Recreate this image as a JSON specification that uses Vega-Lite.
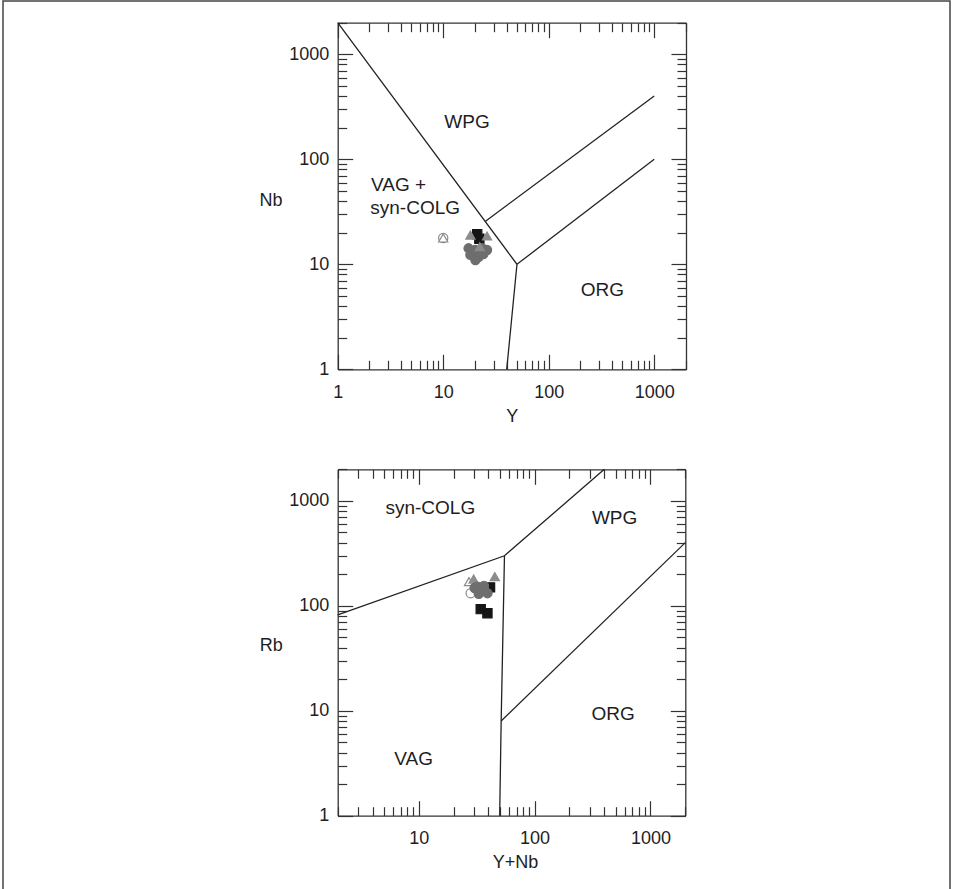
{
  "$schema": "https://vega.github.io/schema/vega-lite/v6.json",
  "width": 947,
  "height": 900,
  "autosize": "none",
  "padding": {"left": 3, "top": 1, "right": 3, "bottom": 0},
  "background": "white",
  "config": {
    "view": {"stroke": "#444", "strokeWidth": 1.5},
    "font": "Liberation Sans",
    "axis": {
      "grid": false,
      "domainColor": "#333",
      "domainWidth": 1.3,
      "tickColor": "#333",
      "tickWidth": 1.2,
      "labelFont": "Liberation Sans",
      "labelFontSize": 18,
      "labelColor": "#1e1e1e",
      "titleFont": "Liberation Sans",
      "titleFontSize": 18,
      "titleFontWeight": "normal",
      "titleColor": "#1e1e1e",
      "labelOverlap": false,
      "labelFlush": false,
      "labelBound": false
    }
  },
  "datasets": {
    "topLines": [
      {"seg": "a", "o": 1, "x": 1, "y": 2000},
      {"seg": "a", "o": 2, "x": 50, "y": 10},
      {"seg": "a", "o": 3, "x": 40, "y": 1},
      {"seg": "b", "o": 1, "x": 50, "y": 10},
      {"seg": "b", "o": 2, "x": 1000, "y": 100},
      {"seg": "c", "o": 1, "x": 25, "y": 25.6},
      {"seg": "c", "o": 2, "x": 1000, "y": 400}
    ],
    "topPts": [
      {"t": "Oc", "x": 10, "y": 17.8},
      {"t": "Ot", "x": 10, "y": 17.8},
      {"t": "Bs", "x": 21, "y": 19.3},
      {"t": "Bs", "x": 22, "y": 17.5},
      {"t": "Gt", "x": 18.1, "y": 19},
      {"t": "Gt", "x": 26, "y": 18.6},
      {"t": "Gc", "x": 17.4, "y": 14.2},
      {"t": "Gc", "x": 20.2, "y": 13.7},
      {"t": "Gc", "x": 23.4, "y": 14.2},
      {"t": "Gc", "x": 26, "y": 13.7},
      {"t": "Gc", "x": 18.1, "y": 12.3},
      {"t": "Gc", "x": 21.7, "y": 11.8},
      {"t": "Gc", "x": 20.2, "y": 11},
      {"t": "Gc", "x": 24, "y": 12.5},
      {"t": "Gt", "x": 22.2, "y": 14.7}
    ],
    "topText": [
      {"label": "WPG", "x": 16.8, "y": 228},
      {"label": "VAG +", "x": 3.77, "y": 57},
      {"label": "syn-COLG", "x": 5.42, "y": 34.1},
      {"label": "ORG", "x": 323, "y": 5.7}
    ],
    "botLines": [
      {"seg": "a", "o": 1, "x": 2, "y": 82},
      {"seg": "a", "o": 2, "x": 55, "y": 300},
      {"seg": "a", "o": 3, "x": 400, "y": 2000},
      {"seg": "b", "o": 1, "x": 55, "y": 300},
      {"seg": "b", "o": 2, "x": 51.5, "y": 8},
      {"seg": "b", "o": 3, "x": 50, "y": 1},
      {"seg": "c", "o": 1, "x": 51.5, "y": 8},
      {"seg": "c", "o": 2, "x": 2000, "y": 400}
    ],
    "botPts": [
      {"t": "Bs", "x": 41.3, "y": 150},
      {"t": "Ot", "x": 27.2, "y": 170},
      {"t": "Oc", "x": 28.1, "y": 132},
      {"t": "Gt", "x": 29.8, "y": 180},
      {"t": "Gt", "x": 45.4, "y": 190},
      {"t": "Gc", "x": 30.4, "y": 148},
      {"t": "Gc", "x": 32.1, "y": 152},
      {"t": "Gc", "x": 34.3, "y": 142},
      {"t": "Gc", "x": 36.6, "y": 155},
      {"t": "Gc", "x": 39.2, "y": 132},
      {"t": "Gc", "x": 33, "y": 130},
      {"t": "Gc", "x": 37, "y": 138},
      {"t": "Bs", "x": 34.3, "y": 93},
      {"t": "Bs", "x": 39.2, "y": 85}
    ],
    "botText": [
      {"label": "syn-COLG", "x": 12.6, "y": 863},
      {"label": "WPG", "x": 491, "y": 693},
      {"label": "ORG", "x": 476, "y": 9.32},
      {"label": "VAG", "x": 9.05, "y": 3.47}
    ]
  },
  "layer": [
    {
      "resolve": {"axis": {"x": "independent", "y": "independent"}},
      "layer": [
        {
          "data": {"name": "topLines"},
          "mark": {"type": "line", "color": "#222", "strokeWidth": 1.3},
          "encoding": {
            "x": {"field": "x", "type": "quantitative",
              "scale": {"type": "log", "domain": [1, 2000], "range": [334.7, 683], "nice": false},
              "axis": {"orient": "bottom", "offset": -531.7,
                "values": [1,2,3,4,5,6,7,8,9,10,20,30,40,50,60,70,80,90,100,200,300,400,500,600,700,800,900,1000,2000],
                "labelExpr": "indexof([1,10,100,1000], datum.value) >= 0 ? '' + datum.value : ''",
                "tickSize": {"condition": {"test": "indexof([1,10,100,1000], datum.value) >= 0", "value": -15}, "value": -9},
                "labelPadding": 38, "labelBaseline": "middle",
                "title": "Y", "titleX": 508.7, "titleY": 47, "titleAlign": "center", "titleBaseline": "middle", "titleAngle": 0}},
            "y": {"field": "y", "type": "quantitative",
              "scale": {"type": "log", "domain": [1, 2000], "range": [368.3, 21.7], "nice": false},
              "axis": {"orient": "left", "offset": -334.7,
                "values": [1,2,3,4,5,6,7,8,9,10,20,30,40,50,60,70,80,90,100,200,300,400,500,600,700,800,900,1000,2000],
                "labelExpr": "indexof([1,10,100,1000], datum.value) >= 0 ? '' + datum.value : ''",
                "tickSize": {"condition": {"test": "indexof([1,10,100,1000], datum.value) >= 0", "value": -15}, "value": -9},
                "labelPadding": 24, "labelBaseline": "middle",
                "title": "Nb", "titleX": -67.2, "titleY": 199, "titleAlign": "center", "titleBaseline": "middle", "titleAngle": 0}},
            "detail": {"field": "seg", "type": "nominal"},
            "order": {"field": "o", "type": "quantitative"}
          }
        },
        {
          "data": {"name": "topPts"},
          "mark": {"type": "point", "size": 85, "strokeWidth": 1.2, "opacity": 1},
          "encoding": {
            "x": {"field": "x", "type": "quantitative",
              "scale": {"type": "log", "domain": [1, 2000], "range": [334.7, 683], "nice": false},
              "axis": {"orient": "top", "offset": -21.7, "labels": false, "title": null,
                "values": [1,2,3,4,5,6,7,8,9,10,20,30,40,50,60,70,80,90,100,200,300,400,500,600,700,800,900,1000,2000],
                "tickSize": {"condition": {"test": "indexof([1,10,100,1000], datum.value) >= 0", "value": -15}, "value": -9}}},
            "y": {"field": "y", "type": "quantitative",
              "scale": {"type": "log", "domain": [1, 2000], "range": [368.3, 21.7], "nice": false},
              "axis": {"orient": "right", "offset": -264, "labels": false, "title": null,
                "values": [1,2,3,4,5,6,7,8,9,10,20,30,40,50,60,70,80,90,100,200,300,400,500,600,700,800,900,1000,2000],
                "tickSize": {"condition": {"test": "indexof([1,10,100,1000], datum.value) >= 0", "value": -15}, "value": -9}}},
            "shape": {"field": "t", "type": "nominal", "legend": null,
              "scale": {"domain": ["Gc", "Gt", "Bs", "Ot", "Oc"], "range": ["circle", "triangle-up", "square", "triangle-up", "circle"]}},
            "fill": {"field": "t", "type": "nominal", "legend": null,
              "scale": {"domain": ["Gc", "Gt", "Bs", "Ot", "Oc"], "range": ["#6e6e6e", "#8c8c8c", "#151515", "white", "white"]}},
            "stroke": {"field": "t", "type": "nominal", "legend": null,
              "scale": {"domain": ["Gc", "Gt", "Bs", "Ot", "Oc"], "range": ["#6e6e6e", "#8c8c8c", "#151515", "#8a8a8a", "#8a8a8a"]}}
          }
        },
        {
          "data": {"name": "topText"},
          "mark": {"type": "text", "font": "Liberation Sans", "fontSize": 19, "color": "#1e1e1e", "align": "center", "baseline": "middle"},
          "encoding": {
            "x": {"field": "x", "type": "quantitative", "axis": null,
              "scale": {"type": "log", "domain": [1, 2000], "range": [334.7, 683], "nice": false}},
            "y": {"field": "y", "type": "quantitative", "axis": null,
              "scale": {"type": "log", "domain": [1, 2000], "range": [368.3, 21.7], "nice": false}},
            "text": {"field": "label"}
          }
        }
      ]
    },
    {
      "resolve": {"axis": {"x": "independent", "y": "independent"}},
      "layer": [
        {
          "data": {"name": "botLines"},
          "mark": {"type": "line", "color": "#222", "strokeWidth": 1.3},
          "encoding": {
            "x": {"field": "x", "type": "quantitative",
              "scale": {"type": "log", "domain": [2, 2000], "range": [334.7, 682.3], "nice": false},
              "axis": {"orient": "bottom", "offset": -85.3,
                "values": [2,3,4,5,6,7,8,9,10,20,30,40,50,60,70,80,90,100,200,300,400,500,600,700,800,900,1000,2000],
                "labelExpr": "indexof([1,10,100,1000], datum.value) >= 0 ? '' + datum.value : ''",
                "tickSize": {"condition": {"test": "indexof([1,10,100,1000], datum.value) >= 0", "value": -15}, "value": -9},
                "labelPadding": 38, "labelBaseline": "middle",
                "title": "Y+Nb", "titleX": 512, "titleY": 47, "titleAlign": "center", "titleBaseline": "middle", "titleAngle": 0}},
            "y": {"field": "y", "type": "quantitative",
              "scale": {"type": "log", "domain": [1, 2000], "range": [814.7, 468.3], "nice": false},
              "axis": {"orient": "left", "offset": -334.7,
                "values": [1,2,3,4,5,6,7,8,9,10,20,30,40,50,60,70,80,90,100,200,300,400,500,600,700,800,900,1000,2000],
                "labelExpr": "indexof([1,10,100,1000], datum.value) >= 0 ? '' + datum.value : ''",
                "tickSize": {"condition": {"test": "indexof([1,10,100,1000], datum.value) >= 0", "value": -15}, "value": -9},
                "labelPadding": 24, "labelBaseline": "middle",
                "title": "Rb", "titleX": -67, "titleY": 644.7, "titleAlign": "center", "titleBaseline": "middle", "titleAngle": 0}},
            "detail": {"field": "seg", "type": "nominal"},
            "order": {"field": "o", "type": "quantitative"}
          }
        },
        {
          "data": {"name": "botPts"},
          "mark": {"type": "point", "size": 85, "strokeWidth": 1.2, "opacity": 1},
          "encoding": {
            "x": {"field": "x", "type": "quantitative",
              "scale": {"type": "log", "domain": [2, 2000], "range": [334.7, 682.3], "nice": false},
              "axis": {"orient": "top", "offset": -468.3, "labels": false, "title": null,
                "values": [2,3,4,5,6,7,8,9,10,20,30,40,50,60,70,80,90,100,200,300,400,500,600,700,800,900,1000,2000],
                "tickSize": {"condition": {"test": "indexof([1,10,100,1000], datum.value) >= 0", "value": -15}, "value": -9}}},
            "y": {"field": "y", "type": "quantitative",
              "scale": {"type": "log", "domain": [1, 2000], "range": [814.7, 468.3], "nice": false},
              "axis": {"orient": "right", "offset": -264.7, "labels": false, "title": null,
                "values": [1,2,3,4,5,6,7,8,9,10,20,30,40,50,60,70,80,90,100,200,300,400,500,600,700,800,900,1000,2000],
                "tickSize": {"condition": {"test": "indexof([1,10,100,1000], datum.value) >= 0", "value": -15}, "value": -9}}},
            "shape": {"field": "t", "type": "nominal", "legend": null,
              "scale": {"domain": ["Gc", "Gt", "Bs", "Ot", "Oc"], "range": ["circle", "triangle-up", "square", "triangle-up", "circle"]}},
            "fill": {"field": "t", "type": "nominal", "legend": null,
              "scale": {"domain": ["Gc", "Gt", "Bs", "Ot", "Oc"], "range": ["#6e6e6e", "#8c8c8c", "#151515", "white", "white"]}},
            "stroke": {"field": "t", "type": "nominal", "legend": null,
              "scale": {"domain": ["Gc", "Gt", "Bs", "Ot", "Oc"], "range": ["#6e6e6e", "#8c8c8c", "#151515", "#8a8a8a", "#8a8a8a"]}}
          }
        },
        {
          "data": {"name": "botText"},
          "mark": {"type": "text", "font": "Liberation Sans", "fontSize": 19, "color": "#1e1e1e", "align": "center", "baseline": "middle"},
          "encoding": {
            "x": {"field": "x", "type": "quantitative", "axis": null,
              "scale": {"type": "log", "domain": [2, 2000], "range": [334.7, 682.3], "nice": false}},
            "y": {"field": "y", "type": "quantitative", "axis": null,
              "scale": {"type": "log", "domain": [1, 2000], "range": [814.7, 468.3], "nice": false}},
            "text": {"field": "label"}
          }
        }
      ]
    }
  ],
  "resolve": {"scale": {"x": "independent", "y": "independent"}, "axis": {"x": "independent", "y": "independent"}}
}
